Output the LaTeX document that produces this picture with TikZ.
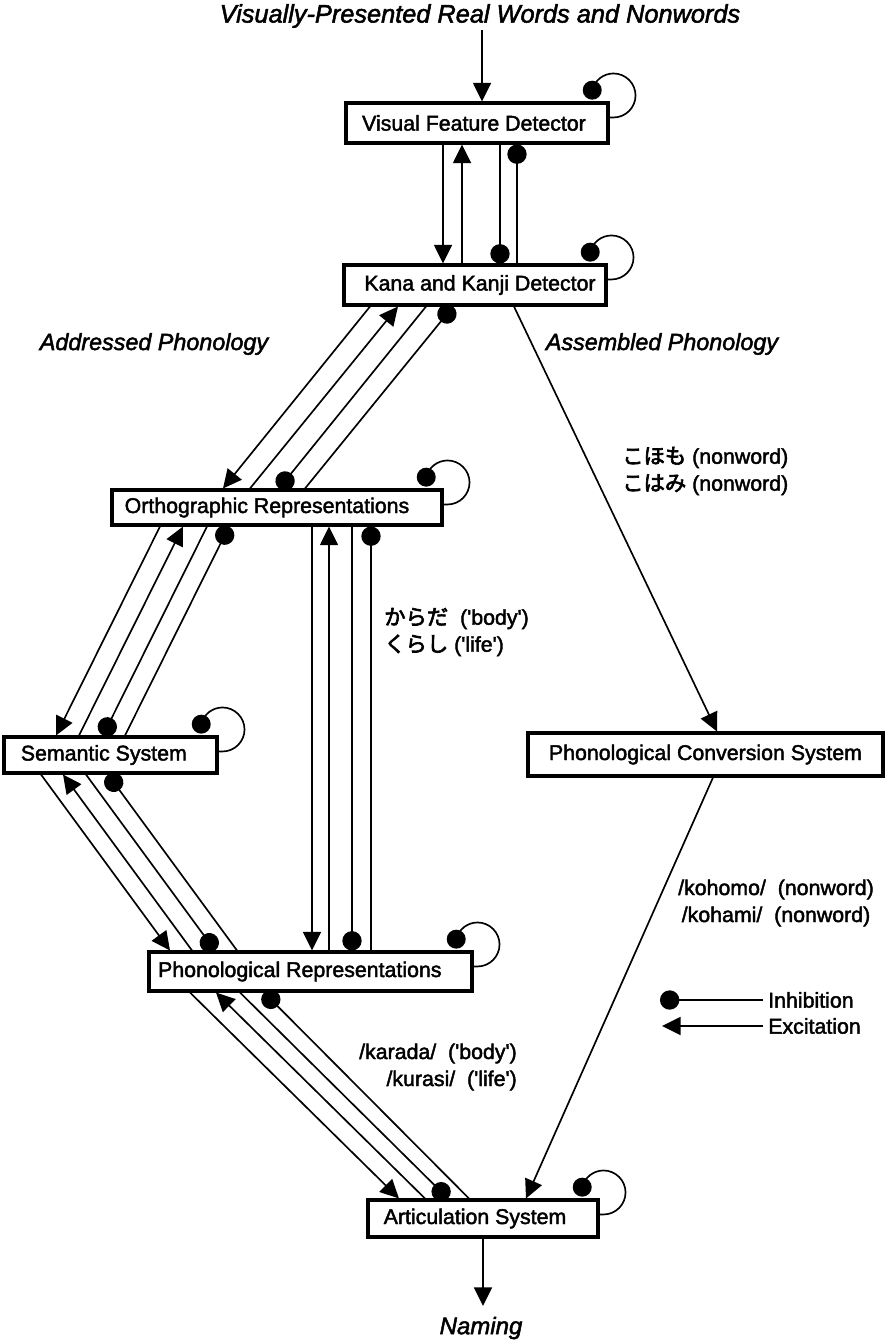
\documentclass[tikz,border=0pt]{standalone}
\usepackage{fontspec}
\setmainfont{Liberation Sans}[Ligatures=TeXOff,FakeBold=2]
\newfontfamily\jp{Noto Sans CJK JP}[FakeBold=3]
\usetikzlibrary{arrows.meta,calc}
\newcommand{\selfloop}[1]{%
  \begin{scope}[shift={(#1.north east)}]
    \draw[conn] (0,16) -- (4,16) .. controls (16.1,16) and (26,6.1) .. (26,-6)
      .. controls (26,-18.1) and (16.1,-28) .. (4,-28)
      .. controls (-6.1,-28) and (-14.9,-21.1) .. (-17.3,-11.3);
    \fill (-17.3,-11.3) circle (9.5);
  \end{scope}}
\begin{document}
\begin{tikzpicture}[x=0.75pt,y=-0.75pt,
  box/.style={draw,line width=2.3pt,inner sep=0pt,font=\fontsize{16}{20}\selectfont},
  conn/.style={line width=1.25pt},
  exc/.style={conn,-{Triangle[length=14pt,width=13.5pt]}},
  inh/.style={conn,-{Circle[length=14.5pt]}},
  lbl/.style={font=\fontsize{16}{20.25}\selectfont,inner sep=0pt},
  ital/.style={font=\itshape\fontsize{17.5}{21}\selectfont,inner sep=0pt}]

\useasboundingbox (0,0) rectangle (885,1342);

% boxes
\node[box,minimum width=262*0.75pt,minimum height=40*0.75pt] (vfd) at (477,123) {Visual Feature Detector\hspace*{4.5pt}};
\node[box,minimum width=262*0.75pt,minimum height=40*0.75pt] (kana) at (475,285) {\hspace*{7.5pt}Kana and Kanji Detector};
\node[box,minimum width=330*0.75pt,minimum height=35*0.75pt] (ortho) at (277,507.5) {Orthographic Representations\hspace*{15pt}};
\node[box,minimum width=213*0.75pt,minimum height=36*0.75pt] (sem) at (110.5,755) {Semantic System\hspace*{10pt}};
\node[box,minimum width=323*0.75pt,minimum height=39*0.75pt] (phon) at (310.5,971.5) {Phonological Representations\hspace*{16pt}};
\node[box,minimum width=355*0.75pt,minimum height=43*0.75pt] (pcs) at (705.5,754.5) {Phonological Conversion System};
\node[box,minimum width=230*0.75pt,minimum height=37*0.75pt] (art) at (483,1218.5) {Articulation System\hspace*{12pt}};

% italic labels
\node[ital,font=\itshape\fontsize{19}{22}\selectfont] (title) at (480,16) {Visually-Presented Real Words and Nonwords};
\node[ital] (addr) at (154,344) {Addressed Phonology};
\node[ital] (assm) at (662,344) {Assembled Phonology};
\node[ital,font=\itshape\fontsize{18}{22}\selectfont] (naming) at (481,1328) {Naming};

% example labels
\node[lbl,anchor=west,align=left] (lkoh) at (622,471) {{\jp こほも} (nonword)\\{\jp こはみ} (nonword)};
\node[lbl,anchor=west,align=left] (lkar) at (384,632) {{\jp からだ}\ \ ('body')\\{\jp くらし} ('life')};
\node[lbl,align=center] (lkohomo) at (776,903) {/kohomo/\ \ (nonword)\\/kohami/\ \ (nonword)};
\node[lbl,anchor=east,align=right] (lkarada) at (517,1067) {/karada/\ \ ('body')\\/kurasi/\ \ ('life')};

% legend
\node[lbl,anchor=west] (inhl) at (768,1000) {Inhibition};
\node[lbl,anchor=west] (excl) at (768,1026) {Excitation};
\coordinate (inhEnd) at (660,1000);
\coordinate (excEnd) at (662,1026);
\draw[inh] ([xshift=-3.75pt]inhl.west) -- (inhEnd);
\draw[exc] ([xshift=-3.75pt]excl.west) -- (excEnd);

% input and output
\coordinate (inTop) at (482,30);
\coordinate (nameTop) at (483,1306);
\draw[exc] (inTop) -- (vfd.north -| 482,0);
\draw[exc] (art.south -| 483,0) -- (nameTop);

% self loops
\selfloop{vfd}
\selfloop{kana}
\selfloop{ortho}
\selfloop{sem}
\selfloop{phon}
\selfloop{art}

% VFD <-> Kana
\draw[exc] (vfd.south -| 443,0) -- (kana.north -| 443,0);
\draw[exc] (kana.north -| 462,0) -- (vfd.south -| 462,0);
\draw[inh] (vfd.south -| 500,0) -- (kana.north -| 500,0);
\draw[inh] (kana.north -| 517,0) -- (vfd.south -| 517,0);

% Kana <-> Ortho
\draw[exc] (kana.south -| 370,0) -- (ortho.north -| 223,0);
\draw[exc] (ortho.north -| 250,0) -- (kana.south -| 398,0);
\draw[inh] (kana.south -| 426,0) -- (ortho.north -| 279,0);
\draw[inh] (ortho.north -| 305,0) -- (kana.south -| 453,0);

% Ortho <-> Semantic
\draw[exc] (ortho.south -| 160,0) -- (sem.north -| 56,0);
\draw[exc] (sem.north -| 79,0) -- (ortho.south -| 183,0);
\draw[inh] (ortho.south -| 207,0) -- (sem.north -| 103,0);
\draw[inh] (sem.north -| 125,0) -- (ortho.south -| 229,0);

% Ortho <-> Phon
\draw[exc] (ortho.south -| 312,0) -- (phon.north -| 312,0);
\draw[exc] (phon.north -| 329,0) -- (ortho.south -| 329,0);
\draw[inh] (ortho.south -| 352,0) -- (phon.north -| 352,0);
\draw[inh] (phon.north -| 371,0) -- (ortho.south -| 371,0);

% Semantic <-> Phon
\draw[exc] (sem.south -| 41,0) -- (phon.north -| 170,0);
\draw[exc] (phon.north -| 192,0) -- (sem.south -| 63,0);
\draw[inh] (sem.south -| 86,0) -- (phon.north -| 215,0);
\draw[inh] (phon.north -| 237,0) -- (sem.south -| 108,0);

% Phon <-> Articulation
\draw[exc] (phon.south -| 190,0) -- (art.north -| 399,0);
\draw[exc] (art.north -| 425,0) -- (phon.south -| 216,0);
\draw[inh] (phon.south -| 240,0) -- (art.north -| 448,0);
\draw[inh] (art.north -| 469,0) -- (phon.south -| 264,0);

% assembled route
\draw[exc] (kana.south -| 514,0) -- (pcs.north -| 717,0);
\draw[exc] (pcs.south -| 713,0) -- (art.north -| 526,0);
\end{tikzpicture}
\end{document}
